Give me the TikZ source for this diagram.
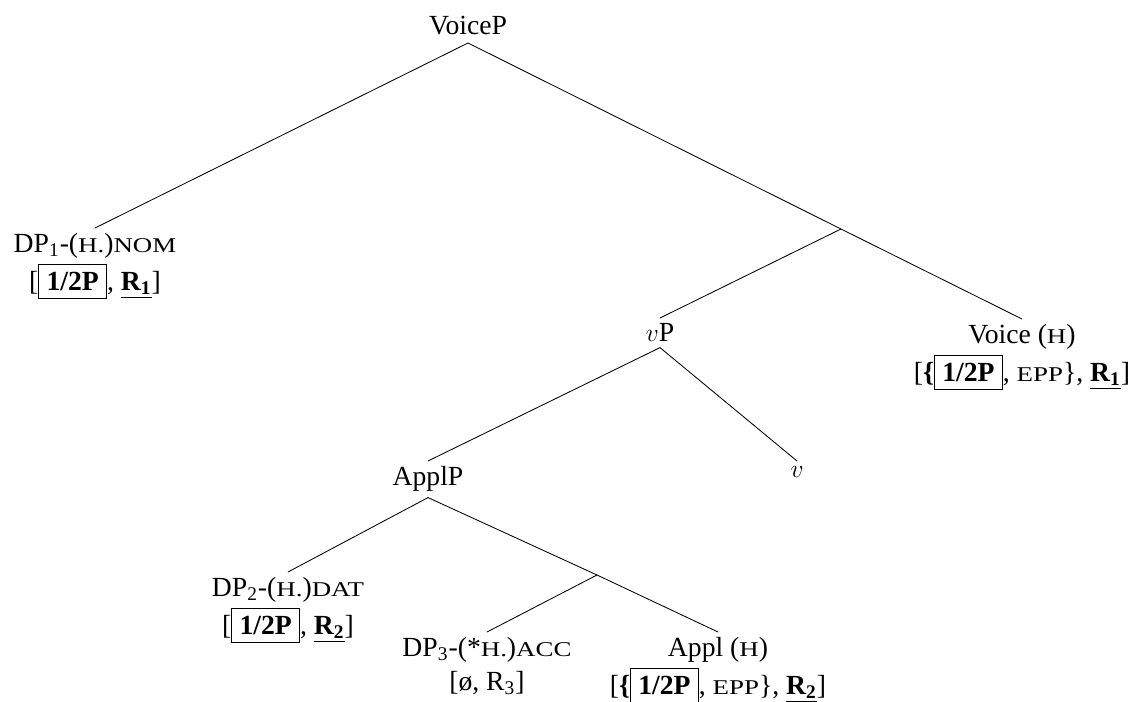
\documentclass[12pt,tikz,border=0pt]{standalone}
\usepackage{fontspec}
\setmainfont{Liberation Serif}
\newfontfamily\scfont[Scale=0.76,FakeStretch=1.28]{Liberation Serif}
\usepackage{tikz}
\usetikzlibrary{positioning}
\newcommand{\smcap}[1]{{\scfont #1}}
\newcommand{\featbox}[1]{\fbox{\textbf{#1}}}
\newcommand{\featR}[1]{\underline{\textbf{R\textsubscript{#1}}}}
\setlength{\fboxsep}{3.5pt}

\begin{document}
\begin{tikzpicture}[line cap=round,line join=round,x=0.47pt,y=-0.47pt,
  every node/.style={inner xsep=0pt,inner ysep=2.5pt,align=center,
    font=\fontsize{13pt}{15.6pt}\selectfont}]
\useasboundingbox (0,0) rectangle (1148,702);
\node[anchor=south,inner ysep=3.5pt] (VoiceP) at (468,43) {VoiceP};
\node[anchor=north] (DPone) at (95,228) {DP\textsubscript{1}-(\smcap{H.})\smcap{NOM}\\[2pt]{[}\featbox{1/2P}, \featR{1}]};
\coordinate (barV) at (841,229);
\node[anchor=north] (vP) at (660,318) {$v$P};
\node[anchor=north] (Voice) at (1022,319) {Voice (\smcap{H})\\[2pt]{[}\textbf{\{}\featbox{1/2P}, \smcap{EPP}\}, \featR{1}]};
\node[anchor=north] (ApplP) at (428,461) {ApplP};
\node[anchor=north] (v) at (797,461) {$v$};
\node[anchor=north] (DPtwo) at (288,572) {DP\textsubscript{2}-(\smcap{H.})\smcap{DAT}\\[2pt]{[}\featbox{1/2P}, \featR{2}]};
\coordinate (barAppl) at (597,575);
\node[anchor=north] (DPthree) at (487,632) {DP\textsubscript{3}-(*\smcap{H.})\smcap{ACC}\\{[}\o, R\textsubscript{3}]};
\node[anchor=north] (Appl) at (718,632) {Appl (\smcap{H})\\[2pt]{[}\textbf{\{}\featbox{1/2P}, \smcap{EPP}\}, \featR{2}]};
\draw (VoiceP.south) -- (DPone.north);
\draw (VoiceP.south) -- (barV) -- (Voice.north);
\draw (barV) -- (vP.north);
\draw (vP.south) -- (ApplP.north);
\draw (vP.south) -- (v.north);
\draw (ApplP.south) -- (DPtwo.north);
\draw (ApplP.south) -- (barAppl) -- (Appl.north);
\draw (barAppl) -- (DPthree.north);
\end{tikzpicture}
\end{document}
